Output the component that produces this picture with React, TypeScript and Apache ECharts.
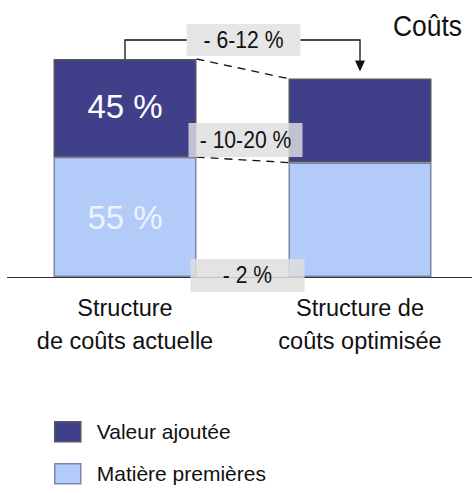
import React, { useEffect, useRef } from "react";
import * as echarts from "echarts";

const categories = ["Structure\nde coûts actuelle", "Structure de\ncoûts optimisée"];
const matieres = [55, 52.5];
const valeurAjoutee = [45, 38.5];
const barLabels = ["55 %", "45 %"];
const deltas = ["- 6-12 %", "- 10-20 %", "- 2 %"];
const title = "Coûts";
const seriesNames = ["Valeur ajoutée", "Matière premières"];

const FONT = "'Liberation Sans Narrow', 'Liberation Sans', Arial, sans-serif";
const DARK = "#40408a";
const LIGHT = "#b3cbf9";
const DARK_BORDER = "#555560";
const LIGHT_BORDER = "#7f86ad";
const BAR_W = 143;

export default function App() {
  const ref = useRef<HTMLDivElement>(null);
  useEffect(() => {
    if (!ref.current) return;
    const chart = echarts.init(ref.current, undefined, { renderer: "svg" });
    const legendBase = {
      orient: "vertical",
      left: 54,
      padding: 0,
      itemWidth: 26,
      itemHeight: 20,
      selectedMode: false,
      textStyle: { fontFamily: FONT, fontSize: 21, color: "#111", padding: [0, 0, 0, 11] },
    };
    const option: any = {
      animation: false,
      grid: { left: 7.5, width: 470, top: 59, height: 218, outerBoundsMode: "none", containLabel: false },
      xAxis: {
        type: "category",
        data: categories,
        axisLine: { lineStyle: { color: "#333", width: 1.2 } },
        axisTick: { show: false },
        axisLabel: {
          fontFamily: FONT,
          fontSize: 23.5,
          lineHeight: 33,
          color: "#111",
          margin: 14,
          interval: 0,
        },
      },
      yAxis: { type: "value", min: 0, max: 100, show: false, splitLine: { show: false } },
      legend: [
        {
          ...legendBase,
          top: 421,
          data: [{ name: seriesNames[0], icon: "rect", itemStyle: { color: DARK, borderColor: DARK_BORDER, borderWidth: 1.5 } }],
        },
        {
          ...legendBase,
          top: 463,
          data: [{ name: seriesNames[1], icon: "rect", itemStyle: { color: LIGHT, borderColor: LIGHT_BORDER, borderWidth: 1.5 } }],
        },
      ],
      series: [
        {
          name: seriesNames[1],
          type: "bar",
          stack: "s",
          barWidth: BAR_W,
          itemStyle: { color: LIGHT, borderColor: LIGHT_BORDER, borderWidth: 1.5 },
          data: matieres.map((v, i) =>
            i === 0
              ? { value: v, label: { show: true, position: "inside", formatter: barLabels[0], color: "#eef2ff", fontSize: 33, fontFamily: FONT } }
              : v
          ),
        },
        {
          name: seriesNames[0],
          type: "bar",
          stack: "s",
          barWidth: BAR_W,
          itemStyle: { color: DARK, borderColor: DARK_BORDER, borderWidth: 1.5 },
          data: valeurAjoutee.map((v, i) =>
            i === 0
              ? { value: v, label: { show: true, position: "inside", formatter: barLabels[1], color: "#ffffff", fontSize: 33, fontFamily: FONT, offset: [0, -2] } }
              : v
          ),
        },
      ],
    };
    chart.setOption(option);

    const px = (c: number, v: number) => chart.convertToPixel({ gridIndex: 0 }, [c, v]) as number[];
    const hw = BAR_W / 2;
    const [xL, yTopL] = px(0, matieres[0] + valeurAjoutee[0]);
    const [, yDivL] = px(0, matieres[0]);
    const [xR, yTopR] = px(1, matieres[1] + valeurAjoutee[1]);
    const [, yDivR] = px(1, matieres[1]);
    const [, yBase] = px(0, 0);
    const xMid = (xL + xR) / 2 + 1;
    const bracketY = 40;
    const boxW = 114;

    const boxText = (text: string, cx: number, cy: number, h: number, fill: string) => ({
      type: "group",
      z: 20,
      children: [
        { type: "rect", shape: { x: cx - boxW / 2, y: cy - h / 2, width: boxW, height: h }, style: { fill }, z: 20 },
        {
          type: "text",
          x: cx,
          y: cy,
          scaleX: 0.88,
          z: 21,
          style: { text, fontFamily: FONT, fontSize: 24, fill: "#111", align: "center", verticalAlign: "middle" },
        },
      ],
    });

    chart.setOption({
      graphic: [
        {
          type: "line",
          z: 10,
          shape: { x1: xL + hw, y1: yTopL, x2: xR - hw, y2: yTopR },
          style: { stroke: "#111", lineWidth: 1.3, lineDash: [8, 6] },
        },
        {
          type: "line",
          z: 10,
          shape: { x1: xL + hw, y1: yDivL, x2: xR - hw, y2: yDivR },
          style: { stroke: "#111", lineWidth: 1.3, lineDash: [8, 6] },
        },
        {
          type: "polyline",
          z: 10,
          shape: { points: [[xL, yTopL], [xL, bracketY], [xR, bracketY], [xR, yTopR - 12]] },
          style: { stroke: "#111", lineWidth: 1.3, fill: null },
        },
        {
          type: "polygon",
          z: 10,
          shape: { points: [[xR - 5, yTopR - 18], [xR + 5, yTopR - 18], [xR, yTopR - 7]] },
          style: { fill: "#111" },
        },
        boxText(deltas[0], xMid, bracketY, 32, "#e6e6e6"),
        boxText(deltas[1], xMid + 2, yDivL - 17, 34, "rgba(222,222,222,0.82)"),
        boxText(deltas[2], xMid + 4, yBase - 1.5, 33, "rgba(222,222,222,0.85)"),
        {
          type: "text",
          x: 462,
          y: 25,
          scaleX: 0.88,
          style: { text: title, fontFamily: FONT, fontSize: 30, fill: "#111", align: "right", verticalAlign: "middle" },
        },
      ],
    });

    return () => chart.dispose();
  }, []);
  return <div ref={ref} style={{ position: "absolute", left: 0, top: 0, width: 472, height: 493 }} />;
}
